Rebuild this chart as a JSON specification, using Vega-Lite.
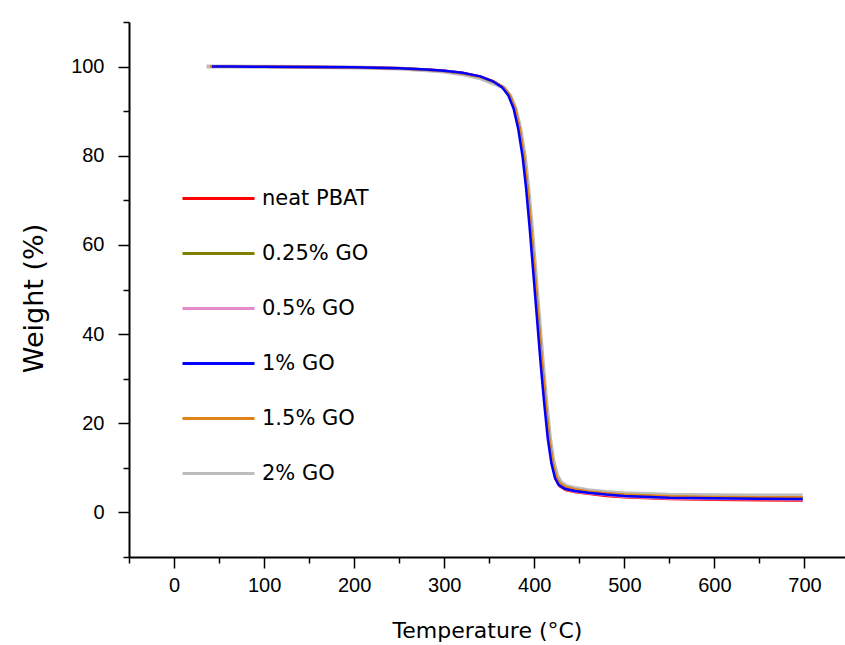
{
  "$schema": "https://vega.github.io/schema/vega-lite/v6.json",
  "width": 716,
  "height": 535,
  "autosize": {"type": "none"},
  "padding": {"left": 129, "top": 22, "right": 0, "bottom": 88},
  "background": "white",
  "config": {"view": {"stroke": null}},
  "datasets": {
    "tga": [
      {"s": "2% GO", "t": 36, "w": 100.0}, {"s": "2% GO", "t": 60, "w": 100.0}, {"s": "2% GO", "t": 100, "w": 99.95}, {"s": "2% GO", "t": 150, "w": 99.9}, {"s": "2% GO", "t": 200, "w": 99.8}, {"s": "2% GO", "t": 250, "w": 99.55}, {"s": "2% GO", "t": 280, "w": 99.2}, {"s": "2% GO", "t": 300, "w": 98.9}, {"s": "2% GO", "t": 320, "w": 98.3}, {"s": "2% GO", "t": 340, "w": 97.4}, {"s": "2% GO", "t": 355, "w": 96.2}, {"s": "2% GO", "t": 366.5, "w": 95.2}, {"s": "2% GO", "t": 373.5, "w": 93.4}, {"s": "2% GO", "t": 379.5, "w": 90.4}, {"s": "2% GO", "t": 384.5, "w": 86.0}, {"s": "2% GO", "t": 389.5, "w": 79.8}, {"s": "2% GO", "t": 393.5, "w": 72.5}, {"s": "2% GO", "t": 397.5, "w": 63.5}, {"s": "2% GO", "t": 401.5, "w": 53.5}, {"s": "2% GO", "t": 405.5, "w": 43.5}, {"s": "2% GO", "t": 409.5, "w": 33.5}, {"s": "2% GO", "t": 413.5, "w": 24.5}, {"s": "2% GO", "t": 417.5, "w": 16.5}, {"s": "2% GO", "t": 421.5, "w": 11.2}, {"s": "2% GO", "t": 425.5, "w": 8.2}, {"s": "2% GO", "t": 429.5, "w": 6.8}, {"s": "2% GO", "t": 436, "w": 5.9}, {"s": "2% GO", "t": 445, "w": 5.5}, {"s": "2% GO", "t": 460, "w": 5.0}, {"s": "2% GO", "t": 480, "w": 4.6}, {"s": "2% GO", "t": 500, "w": 4.3}, {"s": "2% GO", "t": 550, "w": 3.95}, {"s": "2% GO", "t": 600, "w": 3.85}, {"s": "2% GO", "t": 650, "w": 3.8}, {"s": "2% GO", "t": 698, "w": 3.8},

      {"s": "neat PBAT", "t": 40, "w": 100.0}, {"s": "neat PBAT", "t": 60, "w": 100.0}, {"s": "neat PBAT", "t": 100, "w": 99.95}, {"s": "neat PBAT", "t": 150, "w": 99.9}, {"s": "neat PBAT", "t": 200, "w": 99.85}, {"s": "neat PBAT", "t": 250, "w": 99.65}, {"s": "neat PBAT", "t": 280, "w": 99.35}, {"s": "neat PBAT", "t": 300, "w": 99.05}, {"s": "neat PBAT", "t": 320, "w": 98.6}, {"s": "neat PBAT", "t": 340, "w": 97.8}, {"s": "neat PBAT", "t": 355, "w": 96.7}, {"s": "neat PBAT", "t": 365, "w": 95.4}, {"s": "neat PBAT", "t": 372, "w": 93.6}, {"s": "neat PBAT", "t": 378, "w": 90.6}, {"s": "neat PBAT", "t": 383, "w": 86.2}, {"s": "neat PBAT", "t": 388, "w": 79.8}, {"s": "neat PBAT", "t": 392, "w": 72.5}, {"s": "neat PBAT", "t": 396, "w": 63.5}, {"s": "neat PBAT", "t": 400, "w": 53.5}, {"s": "neat PBAT", "t": 404, "w": 43.5}, {"s": "neat PBAT", "t": 408, "w": 33.5}, {"s": "neat PBAT", "t": 412, "w": 24.5}, {"s": "neat PBAT", "t": 416, "w": 16.5}, {"s": "neat PBAT", "t": 420, "w": 10.8}, {"s": "neat PBAT", "t": 424, "w": 7.4}, {"s": "neat PBAT", "t": 428, "w": 5.9}, {"s": "neat PBAT", "t": 435, "w": 5.0}, {"s": "neat PBAT", "t": 445, "w": 4.6}, {"s": "neat PBAT", "t": 460, "w": 4.2}, {"s": "neat PBAT", "t": 480, "w": 3.7}, {"s": "neat PBAT", "t": 500, "w": 3.4}, {"s": "neat PBAT", "t": 550, "w": 3.0}, {"s": "neat PBAT", "t": 600, "w": 2.85}, {"s": "neat PBAT", "t": 650, "w": 2.75}, {"s": "neat PBAT", "t": 698, "w": 2.7},

      {"s": "0.25% GO", "t": 40, "w": 100.0}, {"s": "0.25% GO", "t": 60, "w": 100.0}, {"s": "0.25% GO", "t": 100, "w": 99.95}, {"s": "0.25% GO", "t": 150, "w": 99.9}, {"s": "0.25% GO", "t": 200, "w": 99.8}, {"s": "0.25% GO", "t": 250, "w": 99.6}, {"s": "0.25% GO", "t": 280, "w": 99.3}, {"s": "0.25% GO", "t": 300, "w": 99.0}, {"s": "0.25% GO", "t": 320, "w": 98.5}, {"s": "0.25% GO", "t": 340, "w": 97.7}, {"s": "0.25% GO", "t": 355, "w": 96.6}, {"s": "0.25% GO", "t": 365.5, "w": 95.4}, {"s": "0.25% GO", "t": 372.5, "w": 93.6}, {"s": "0.25% GO", "t": 378.5, "w": 90.6}, {"s": "0.25% GO", "t": 383.5, "w": 86.2}, {"s": "0.25% GO", "t": 388.5, "w": 79.8}, {"s": "0.25% GO", "t": 392.5, "w": 72.5}, {"s": "0.25% GO", "t": 396.5, "w": 63.5}, {"s": "0.25% GO", "t": 400.5, "w": 53.5}, {"s": "0.25% GO", "t": 404.5, "w": 43.5}, {"s": "0.25% GO", "t": 408.5, "w": 33.5}, {"s": "0.25% GO", "t": 412.5, "w": 24.5}, {"s": "0.25% GO", "t": 416.5, "w": 16.5}, {"s": "0.25% GO", "t": 420.5, "w": 11.0}, {"s": "0.25% GO", "t": 424.5, "w": 7.8}, {"s": "0.25% GO", "t": 428.5, "w": 6.4}, {"s": "0.25% GO", "t": 435, "w": 5.6}, {"s": "0.25% GO", "t": 445, "w": 5.1}, {"s": "0.25% GO", "t": 460, "w": 4.6}, {"s": "0.25% GO", "t": 480, "w": 4.2}, {"s": "0.25% GO", "t": 500, "w": 3.9}, {"s": "0.25% GO", "t": 550, "w": 3.5}, {"s": "0.25% GO", "t": 600, "w": 3.35}, {"s": "0.25% GO", "t": 650, "w": 3.3}, {"s": "0.25% GO", "t": 698, "w": 3.25},

      {"s": "0.5% GO", "t": 40, "w": 100.0}, {"s": "0.5% GO", "t": 60, "w": 100.0}, {"s": "0.5% GO", "t": 100, "w": 99.95}, {"s": "0.5% GO", "t": 150, "w": 99.9}, {"s": "0.5% GO", "t": 200, "w": 99.8}, {"s": "0.5% GO", "t": 250, "w": 99.6}, {"s": "0.5% GO", "t": 280, "w": 99.3}, {"s": "0.5% GO", "t": 300, "w": 99.0}, {"s": "0.5% GO", "t": 320, "w": 98.5}, {"s": "0.5% GO", "t": 340, "w": 97.7}, {"s": "0.5% GO", "t": 355, "w": 96.6}, {"s": "0.5% GO", "t": 365, "w": 95.4}, {"s": "0.5% GO", "t": 372, "w": 93.6}, {"s": "0.5% GO", "t": 378, "w": 90.6}, {"s": "0.5% GO", "t": 383, "w": 86.2}, {"s": "0.5% GO", "t": 388, "w": 79.8}, {"s": "0.5% GO", "t": 392, "w": 72.5}, {"s": "0.5% GO", "t": 396, "w": 63.5}, {"s": "0.5% GO", "t": 400, "w": 53.5}, {"s": "0.5% GO", "t": 404, "w": 43.5}, {"s": "0.5% GO", "t": 408, "w": 33.5}, {"s": "0.5% GO", "t": 412, "w": 24.5}, {"s": "0.5% GO", "t": 416, "w": 16.5}, {"s": "0.5% GO", "t": 420, "w": 10.9}, {"s": "0.5% GO", "t": 424, "w": 7.6}, {"s": "0.5% GO", "t": 428, "w": 6.1}, {"s": "0.5% GO", "t": 435, "w": 5.2}, {"s": "0.5% GO", "t": 445, "w": 4.7}, {"s": "0.5% GO", "t": 460, "w": 4.3}, {"s": "0.5% GO", "t": 480, "w": 3.9}, {"s": "0.5% GO", "t": 500, "w": 3.5}, {"s": "0.5% GO", "t": 550, "w": 3.1}, {"s": "0.5% GO", "t": 600, "w": 3.0}, {"s": "0.5% GO", "t": 650, "w": 2.95}, {"s": "0.5% GO", "t": 698, "w": 2.9},

      {"s": "1.5% GO", "t": 40, "w": 100.0}, {"s": "1.5% GO", "t": 60, "w": 100.0}, {"s": "1.5% GO", "t": 100, "w": 99.95}, {"s": "1.5% GO", "t": 150, "w": 99.9}, {"s": "1.5% GO", "t": 200, "w": 99.8}, {"s": "1.5% GO", "t": 250, "w": 99.6}, {"s": "1.5% GO", "t": 280, "w": 99.3}, {"s": "1.5% GO", "t": 300, "w": 99.0}, {"s": "1.5% GO", "t": 320, "w": 98.5}, {"s": "1.5% GO", "t": 340, "w": 97.7}, {"s": "1.5% GO", "t": 355, "w": 96.6}, {"s": "1.5% GO", "t": 365.5, "w": 95.4}, {"s": "1.5% GO", "t": 372.5, "w": 93.6}, {"s": "1.5% GO", "t": 378.5, "w": 90.6}, {"s": "1.5% GO", "t": 383.5, "w": 86.2}, {"s": "1.5% GO", "t": 388.5, "w": 79.8}, {"s": "1.5% GO", "t": 392.5, "w": 72.5}, {"s": "1.5% GO", "t": 396.5, "w": 63.5}, {"s": "1.5% GO", "t": 400.5, "w": 53.5}, {"s": "1.5% GO", "t": 404.5, "w": 43.5}, {"s": "1.5% GO", "t": 408.5, "w": 33.5}, {"s": "1.5% GO", "t": 412.5, "w": 24.5}, {"s": "1.5% GO", "t": 416.5, "w": 16.5}, {"s": "1.5% GO", "t": 420.5, "w": 11.1}, {"s": "1.5% GO", "t": 424.5, "w": 7.9}, {"s": "1.5% GO", "t": 428.5, "w": 6.5}, {"s": "1.5% GO", "t": 435, "w": 5.7}, {"s": "1.5% GO", "t": 445, "w": 5.2}, {"s": "1.5% GO", "t": 460, "w": 4.7}, {"s": "1.5% GO", "t": 480, "w": 4.3}, {"s": "1.5% GO", "t": 500, "w": 4.0}, {"s": "1.5% GO", "t": 550, "w": 3.6}, {"s": "1.5% GO", "t": 600, "w": 3.45}, {"s": "1.5% GO", "t": 650, "w": 3.4}, {"s": "1.5% GO", "t": 698, "w": 3.4},

      {"s": "1% GO", "t": 42, "w": 100.0}, {"s": "1% GO", "t": 60, "w": 100.0}, {"s": "1% GO", "t": 100, "w": 99.95}, {"s": "1% GO", "t": 150, "w": 99.92}, {"s": "1% GO", "t": 200, "w": 99.85}, {"s": "1% GO", "t": 250, "w": 99.65}, {"s": "1% GO", "t": 280, "w": 99.35}, {"s": "1% GO", "t": 300, "w": 99.05}, {"s": "1% GO", "t": 320, "w": 98.6}, {"s": "1% GO", "t": 340, "w": 97.8}, {"s": "1% GO", "t": 354, "w": 96.7}, {"s": "1% GO", "t": 364, "w": 95.4}, {"s": "1% GO", "t": 371, "w": 93.6}, {"s": "1% GO", "t": 377, "w": 90.6}, {"s": "1% GO", "t": 382, "w": 86.2}, {"s": "1% GO", "t": 387, "w": 79.8}, {"s": "1% GO", "t": 391, "w": 72.5}, {"s": "1% GO", "t": 395, "w": 63.5}, {"s": "1% GO", "t": 399, "w": 53.5}, {"s": "1% GO", "t": 403, "w": 43.5}, {"s": "1% GO", "t": 407, "w": 33.5}, {"s": "1% GO", "t": 411, "w": 24.5}, {"s": "1% GO", "t": 415, "w": 16.5}, {"s": "1% GO", "t": 419, "w": 11.0}, {"s": "1% GO", "t": 423, "w": 7.7}, {"s": "1% GO", "t": 427, "w": 6.2}, {"s": "1% GO", "t": 434, "w": 5.3}, {"s": "1% GO", "t": 445, "w": 4.8}, {"s": "1% GO", "t": 460, "w": 4.4}, {"s": "1% GO", "t": 480, "w": 4.0}, {"s": "1% GO", "t": 500, "w": 3.7}, {"s": "1% GO", "t": 550, "w": 3.3}, {"s": "1% GO", "t": 600, "w": 3.15}, {"s": "1% GO", "t": 650, "w": 3.05}, {"s": "1% GO", "t": 698, "w": 3.0}
    ]
  },
  "encoding": {
    "x": {
      "field": "t",
      "type": "quantitative",
      "scale": {"domain": [-50, 745], "nice": false, "zero": false},
      "axis": {
        "values": [-50, 0, 50, 100, 150, 200, 250, 300, 350, 400, 450, 500, 550, 600, 650, 700],
        "labelExpr": "datum.value % 100 === 0 ? datum.label : ''",
        "tickSize": {"condition": {"test": "datum.value % 100 === 0", "value": 11}, "value": 6},
        "labelPadding": 7,
        "labelFont": "Liberation Sans",
        "labelFontSize": 20,
        "labelColor": "black",
        "labelOverlap": false,
        "labelFlush": false,
        "domainColor": "black",
        "domainWidth": 2,
        "tickColor": "black",
        "tickWidth": 1.5,
        "grid": false,
        "title": "Temperature (°C)",
        "titleFont": "DejaVu Sans",
        "titleFontSize": 22,
        "titleFontWeight": "normal",
        "titleColor": "black",
        "titlePadding": 25
      }
    },
    "y": {
      "field": "w",
      "type": "quantitative",
      "scale": {"domain": [-10, 110], "nice": false, "zero": false},
      "axis": {
        "values": [-10, 0, 10, 20, 30, 40, 50, 60, 70, 80, 90, 100, 110],
        "labelExpr": "datum.value % 20 === 0 ? datum.label : ''",
        "tickSize": {"condition": {"test": "datum.value % 20 === 0", "value": 11}, "value": 6},
        "labelPadding": 14,
        "labelFont": "Liberation Sans",
        "labelFontSize": 20,
        "labelColor": "black",
        "labelOverlap": false,
        "labelFlush": false,
        "domainColor": "black",
        "domainWidth": 2,
        "tickColor": "black",
        "tickWidth": 1.5,
        "grid": false,
        "title": "Weight (%)",
        "titleFont": "DejaVu Sans",
        "titleFontSize": 27,
        "titleFontWeight": "normal",
        "titleColor": "black",
        "titlePadding": 22,
        "titleY": 276
      }
    },
    "color": {
      "field": "s",
      "type": "nominal",
      "scale": {
        "domain": ["neat PBAT", "0.25% GO", "0.5% GO", "1% GO", "1.5% GO", "2% GO"],
        "range": ["#ff0000", "#808000", "#e48ac6", "#0000ff", "#e0821a", "#bdbdbd"]
      },
      "legend": {
        "orient": "none",
        "legendX": 52,
        "legendY": 149,
        "title": null,
        "padding": 0,
        "symbolType": "stroke",
        "symbolSize": 5184,
        "symbolStrokeWidth": 3,
        "clipHeight": 55,
        "rowPadding": 0,
        "labelFont": "DejaVu Sans",
        "labelFontSize": 21,
        "labelColor": "black",
        "labelOffset": 6
      }
    }
  },
  "layer": [
    {
      "data": {"name": "tga"},
      "transform": [{"filter": "datum.s === '2% GO'"}],
      "mark": {"type": "line", "clip": true, "strokeWidth": 4}
    },
    {
      "data": {"name": "tga"},
      "transform": [{"filter": "datum.s !== '2% GO'"}],
      "mark": {"type": "line", "clip": true, "strokeWidth": 2.5}
    },
    {
      "mark": {"type": "rule", "color": "black", "strokeWidth": 2},
      "encoding": {"x": null, "color": null, "y": {"datum": 110, "type": "quantitative"}}
    }
  ]
}
